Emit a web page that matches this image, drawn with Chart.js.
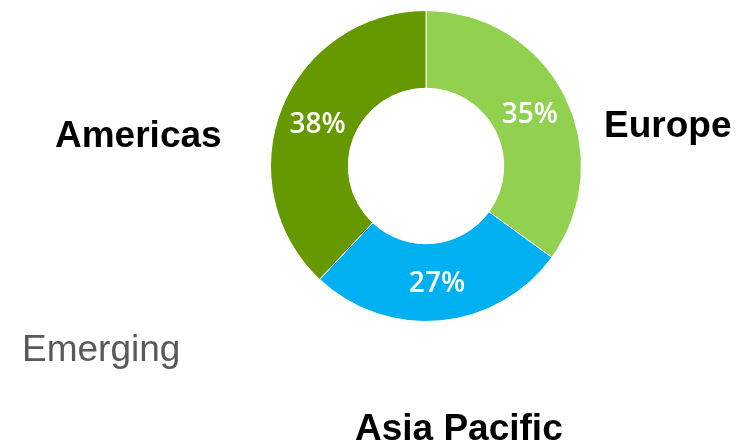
<!DOCTYPE html>
<html>
<head>
<meta charset="utf-8">
<script src="https://cdn.jsdelivr.net/npm/chart.js@4/dist/chart.umd.min.js"></script>
<style>
  html, body { margin: 0; padding: 0; background: #fff; }
  #wrap { width: 740px; height: 445px; position: relative; }
</style>
</head>
<body>
<div id="wrap"><canvas id="chart" width="740" height="445"></canvas></div>
<script>
const regions = ['Europe', 'Asia Pacific', 'Americas']
const shares = [35, 27, 38]
const colors = ['#92D050', '#00B0F0', '#669900']

// region names placed around the ring, plus the stray "Emerging" text
const outerLabels = [
  { text: 'Americas', x: 55, y: 147, bold: true, color: '#000' },
  { text: 'Europe', x: 604, y: 137, bold: true, color: '#000' },
  { text: 'Asia Pacific', x: 355, y: 440, bold: true, color: '#000' },
  { text: 'Emerging', x: 22, y: 361, bold: false, color: '#595959' },
]

const labelPlugin = {
  id: 'ringLabels',
  afterDraw(chart) {
    const ctx = chart.ctx
    const meta = chart.getDatasetMeta(0)
    ctx.save()

    // percentages inside each slice
    ctx.font = '600 28px "Open Sans", sans-serif'
    ctx.fillStyle = '#fff'
    ctx.textAlign = 'center'
    ctx.textBaseline = 'middle'
    meta.data.forEach((arc, i) => {
      const p = arc.tooltipPosition()
      ctx.fillText(shares[i] + '%', p.x, p.y + 2) // nudge: middle sits a bit above cap centre
    })

    // outside text
    ctx.textAlign = 'left'
    ctx.textBaseline = 'alphabetic'
    outerLabels.forEach(l => {
      ctx.font = (l.bold ? 'bold ' : '') + '37px "Liberation Sans", Arial, sans-serif'
      ctx.fillStyle = l.color
      ctx.fillText(l.text, l.x, l.y)
    })
    ctx.restore()
  }
}

new Chart(document.getElementById('chart'), {
  type: 'doughnut',
  plugins: [labelPlugin],
  data: {
    labels: regions,
    datasets: [{
      data: shares,
      backgroundColor: colors,
      borderColor: '#fff',
      borderWidth: 1,
    }]
  },
  options: {
    responsive: false,
    animation: false,
    cutout: '50%',
    layout: { padding: { left: 270, right: 158, top: 10, bottom: 123 } },
    plugins: {
      legend: { display: false },
      tooltip: { enabled: false }
    }
  }
})
</script>
</body>
</html>
